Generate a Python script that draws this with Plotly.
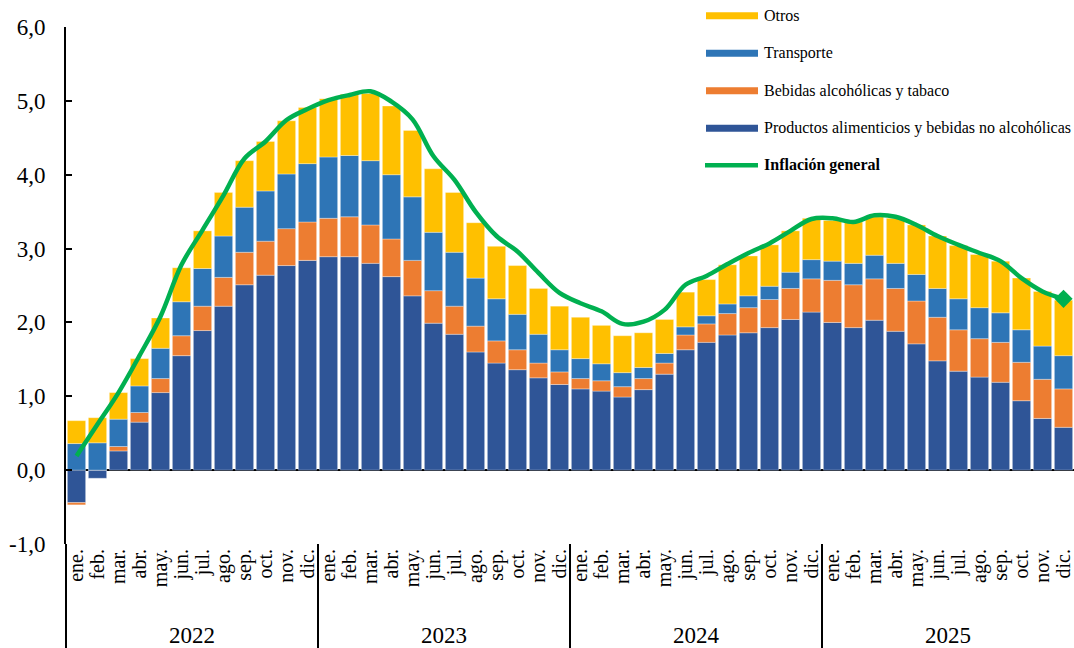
import plotly.graph_objects as go

# ---------------- data ----------------
meses = ["ene.", "feb.", "mar.", "abr.", "may.", "jun.", "jul.", "ago.", "sep.", "oct.", "nov.", "dic."]
anios = ["2022", "2023", "2024", "2025"]

productos = [
    -0.44, -0.11, 0.26, 0.65, 1.05, 1.55, 1.89, 2.22, 2.51, 2.64, 2.77, 2.84,
    2.89, 2.89, 2.80, 2.62, 2.36, 1.99, 1.84, 1.60, 1.45, 1.36, 1.25, 1.16,
    1.10, 1.07, 0.99, 1.09, 1.30, 1.63, 1.73, 1.83, 1.86, 1.93, 2.04, 2.14,
    2.00, 1.93, 2.03, 1.88, 1.71, 1.48, 1.34, 1.26, 1.19, 0.94, 0.70, 0.58,
]
bebidas = [
    -0.03, 0.00, 0.06, 0.13, 0.19, 0.27, 0.33, 0.39, 0.44, 0.46, 0.50, 0.52,
    0.52, 0.54, 0.52, 0.51, 0.48, 0.44, 0.38, 0.35, 0.30, 0.27, 0.20, 0.17,
    0.14, 0.14, 0.14, 0.15, 0.15, 0.20, 0.25, 0.29, 0.34, 0.38, 0.42, 0.45,
    0.57, 0.58, 0.56, 0.58, 0.58, 0.59, 0.56, 0.52, 0.54, 0.52, 0.53, 0.52,
]
transporte = [
    0.36, 0.37, 0.37, 0.36, 0.41, 0.46, 0.51, 0.56, 0.61, 0.68, 0.74, 0.79,
    0.83, 0.83, 0.87, 0.87, 0.86, 0.79, 0.73, 0.65, 0.57, 0.48, 0.39, 0.30,
    0.27, 0.23, 0.19, 0.15, 0.13, 0.11, 0.11, 0.13, 0.16, 0.18, 0.22, 0.26,
    0.26, 0.29, 0.32, 0.34, 0.36, 0.39, 0.42, 0.42, 0.40, 0.44, 0.45, 0.45,
]
otros = [
    0.31, 0.34, 0.36, 0.37, 0.41, 0.46, 0.51, 0.59, 0.63, 0.67, 0.72, 0.76,
    0.79, 0.83, 0.91, 0.93, 0.90, 0.86, 0.81, 0.75, 0.71, 0.66, 0.62, 0.59,
    0.56, 0.52, 0.50, 0.47, 0.46, 0.47, 0.49, 0.53, 0.54, 0.56, 0.56, 0.56,
    0.55, 0.56, 0.52, 0.61, 0.67, 0.71, 0.72, 0.72, 0.70, 0.70, 0.74, 0.75,
]
inflacion = [
    0.19, 0.62, 1.05, 1.55, 2.08, 2.78, 3.25, 3.72, 4.22, 4.45, 4.74, 4.89,
    5.01, 5.08, 5.13, 4.99, 4.75, 4.25, 3.93, 3.50, 3.17, 2.96, 2.67, 2.40,
    2.26, 2.15, 1.98, 2.01, 2.17, 2.51, 2.63, 2.79, 2.94, 3.07, 3.24, 3.40,
    3.41, 3.36, 3.45, 3.43, 3.32, 3.17, 3.05, 2.94, 2.83, 2.60, 2.42, 2.32,
]
y_ticks = [-1, 0, 1, 2, 3, 4, 5, 6]

# ---------------- styles ----------------
FONT = "Liberation Serif, Times New Roman, serif"
C_PROD = "#2F5597"
C_BEB = "#ED7D31"
C_TRANS = "#2E75B6"
C_OTROS = "#FFC000"
C_INF = "#00B050"

n = len(productos)
x = list(range(n))
etiquetas = meses * len(anios)

fig = go.Figure()
series = [
    ("Productos alimenticios y bebidas no alcohólicas", productos, C_PROD),
    ("Bebidas alcohólicas y tabaco", bebidas, C_BEB),
    ("Transporte", transporte, C_TRANS),
    ("Otros", otros, C_OTROS),
]
for name, vals, color in series:
    fig.add_trace(go.Bar(
        x=x, y=vals, name=name,
        marker=dict(color=color, line=dict(width=0.6, color="rgba(255,255,255,0.55)")),
        showlegend=False,
    ))

fig.add_trace(go.Scatter(
    x=x, y=inflacion, mode="lines", name="Inflación general",
    line=dict(color=C_INF, width=4.5, shape="spline", smoothing=1.0),
    showlegend=False,
))
fig.add_trace(go.Scatter(
    x=[x[-1]], y=[inflacion[-1]], mode="markers",
    marker=dict(symbol="diamond", size=14, color=C_INF),
    showlegend=False, hoverinfo="skip", cliponaxis=False,
))

FW, FH = 1074, 648
# plot area in pixels: left 66, right 1074, top 27, bottom 544
L, R, T, B = 66, 1074, 27, 544
W, H = R - L, B - T


def py(p):
    """pixel y -> paper y"""
    return (B - p) / H


def pxx(p):
    """pixel x -> paper x"""
    return (p - L) / W


fig.update_layout(
    width=FW, height=FH,
    margin=dict(l=L, r=FW - R, t=T, b=FH - B, autoexpand=False),
    barmode="relative", bargap=0.13,
    plot_bgcolor="white", paper_bgcolor="white",
    font=dict(family=FONT, color="black"),
)

fig.update_xaxes(
    range=[-0.5, n - 0.5], tickmode="array", tickvals=x, ticktext=etiquetas,
    tickangle=-90, tickfont=dict(size=20, family=FONT, color="black"),
    showline=False, ticks="", showgrid=False, zeroline=False, automargin=False,
)
fig.update_yaxes(
    range=[-1, 6], tickmode="array", tickvals=y_ticks,
    ticktext=[f"{v:.1f}".replace(".", ",") for v in y_ticks],
    tickfont=dict(size=23, family=FONT, color="black"),
    showgrid=False, showline=True, linecolor="black", linewidth=2,
    ticks="inside", ticklen=6, tickwidth=2, tickcolor="black",
    zeroline=True, zerolinecolor="black", zerolinewidth=2,
    layer="above traces", ticklabelstandoff=14, automargin=False,
)

shapes = []
bottom = py(648)
# extension of the left axis through the category area
shapes.append(dict(type="line", xref="paper", yref="paper", x0=0, x1=0, y0=0, y1=bottom,
                   line=dict(color="black", width=2)))
# year separators
for k in range(1, len(anios)):
    xs = 12 * k - 0.5
    shapes.append(dict(type="line", xref="x", yref="paper", x0=xs, x1=xs, y0=0, y1=bottom,
                       line=dict(color="black", width=2)))

annotations = []
for k, a in enumerate(anios):
    annotations.append(dict(x=12 * k + 5.5, xref="x", y=py(635), yref="paper", text=a,
                            showarrow=False, font=dict(size=23, family=FONT, color="black"),
                            xanchor="center", yanchor="middle"))

# custom legend
leg_items = [
    ("Otros", C_OTROS, "bar", 15.7),
    ("Transporte", C_TRANS, "bar", 53.3),
    ("Bebidas alcohólicas y tabaco", C_BEB, "bar", 90.7),
    ("Productos alimenticios y bebidas no alcohólicas", C_PROD, "bar", 128.3),
    ("<b>Inflación general</b>", C_INF, "line", 165.3),
]
for text, color, kind, yc in leg_items:
    if kind == "bar":
        shapes.append(dict(type="rect", xref="paper", yref="paper",
                           x0=pxx(706), x1=pxx(758), y0=py(yc + 3.5), y1=py(yc - 3.5),
                           fillcolor=color, line=dict(width=0)))
    else:
        shapes.append(dict(type="line", xref="paper", yref="paper",
                           x0=pxx(705), x1=pxx(758), y0=py(yc), y1=py(yc),
                           line=dict(color=color, width=4.5)))
    annotations.append(dict(x=pxx(762), y=py(yc), xref="paper", yref="paper", text=text,
                            showarrow=False, xanchor="left", yanchor="middle",
                            font=dict(size=16, family=FONT, color="black")))

fig.update_layout(shapes=shapes, annotations=annotations)

# remove the default page margin so the figure fills the window exactly
fig.write_html(
    "out.html",
    config={"displayModeBar": False},
    post_script="document.body.style.margin='0px';document.body.style.overflow='hidden';",
)
